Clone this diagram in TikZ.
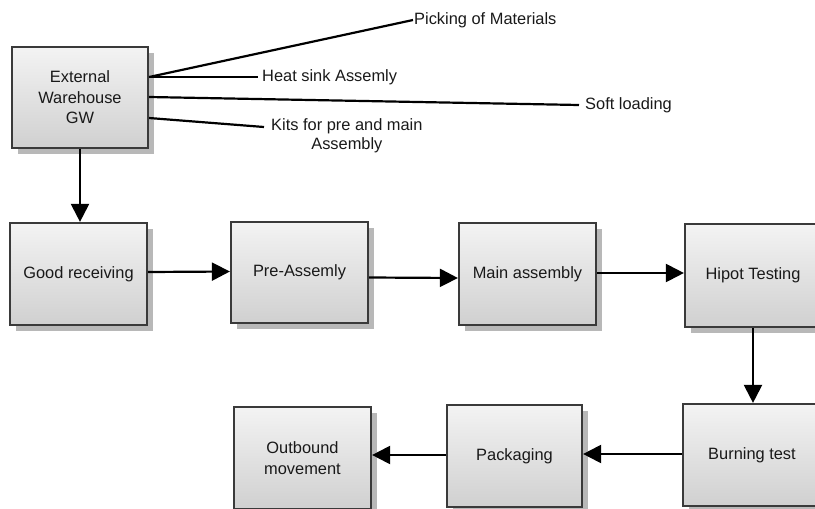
\documentclass[tikz,border=0pt]{standalone}
\usepackage{fontspec}
\setmainfont{Liberation Sans}
\usetikzlibrary{arrows.meta,shadows}

\definecolor{boxline}{RGB}{58,58,58}
\definecolor{boxtop}{RGB}{243,243,243}
\definecolor{boxbottom}{RGB}{208,208,208}
\definecolor{shadowgray}{RGB}{184,184,184}
\definecolor{inktext}{RGB}{25,25,25}

\tikzset{
  procbox/.style={draw=boxline, line width=2.2pt, rectangle,
    top color=boxtop, bottom color=boxbottom,
    minimum width=137pt, minimum height=102pt, inner sep=2pt,
    align=center, text=inktext,
    font=\fontsize{16.4}{20.5}\selectfont,
    drop shadow={shadow xshift=5.5pt, shadow yshift=-5.5pt,
      fill=shadowgray, opacity=1}},
  flow/.style={line width=2.2pt, draw=black,
    -{Triangle[length=18pt,width=18pt]}},
  feed/.style={line width=2.2pt, draw=black},
  tag/.style={inner sep=1pt, text=inktext, align=center,
    font=\fontsize{16.4}{19}\selectfont}
}

\begin{document}
\begin{tikzpicture}[x=1pt,y=-1pt]
  \useasboundingbox (0,0) rectangle (815,509);

  % process boxes
  \node[procbox, minimum width=136pt, minimum height=101pt] (ew) at (80,97.5) {External\\Warehouse\\GW};
  \node[procbox] (gr) at (78.5,274) {Good receiving};
  \node[procbox, minimum height=101pt] (pa) at (299.5,272.5) {Pre-Assemly};
  \node[procbox] (ma) at (527.5,274) {Main assembly};
  \node[procbox, minimum width=136pt, minimum height=103pt] (ht) at (753,275.5) {Hipot Testing};
  \node[procbox, minimum width=138pt] (bt) at (752,455) {Burning test};
  \node[procbox, minimum width=135pt] (pk) at (514.5,456) {Packaging};
  \node[procbox] (om) at (302.5,458) {Outbound\\movement};

  % material feeds leaving the warehouse
  \node[tag, anchor=west] (tpick) at (413,20) {Picking of Materials};
  \node[tag, anchor=west] (theat) at (261,77) {Heat sink Assemly};
  \node[tag, anchor=west] (tsoft) at (584,105) {Soft loading};
  \coordinate (kitsend) at (264,127);
  \node[tag, anchor=north west] (tkits) at (270,117) {Kits for pre and main\\Assembly};

  \draw[feed] ([yshift=20.5pt]ew.east) -- (tpick.west);
  \draw[feed] ([yshift=20.5pt]ew.east) -- ([xshift=-3pt]theat.west);
  \draw[feed] ([yshift=0.5pt]ew.east) -- ([xshift=-5pt]tsoft.west);
  \draw[feed] ([yshift=-20.5pt]ew.east) -- (kitsend);

  % process flow
  \draw[flow] (ew.south) -- (ew.south |- gr.north);
  \draw[flow] ([yshift=2pt]gr.east) -- ([yshift=1pt]pa.west);
  \draw[flow] ([yshift=-5pt]pa.east) -- ([yshift=-4pt]ma.west);
  \draw[flow] ([yshift=1pt]ma.east) -- ([yshift=2.5pt]ht.west);
  \draw[flow] (ht.south) -- (ht.south |- bt.north);
  \draw[flow] ([yshift=1pt]bt.west) -- ([yshift=2pt]pk.east);
  \draw[flow] ([yshift=1pt]pk.west) -- ([yshift=3pt]om.east);
\end{tikzpicture}
\end{document}
